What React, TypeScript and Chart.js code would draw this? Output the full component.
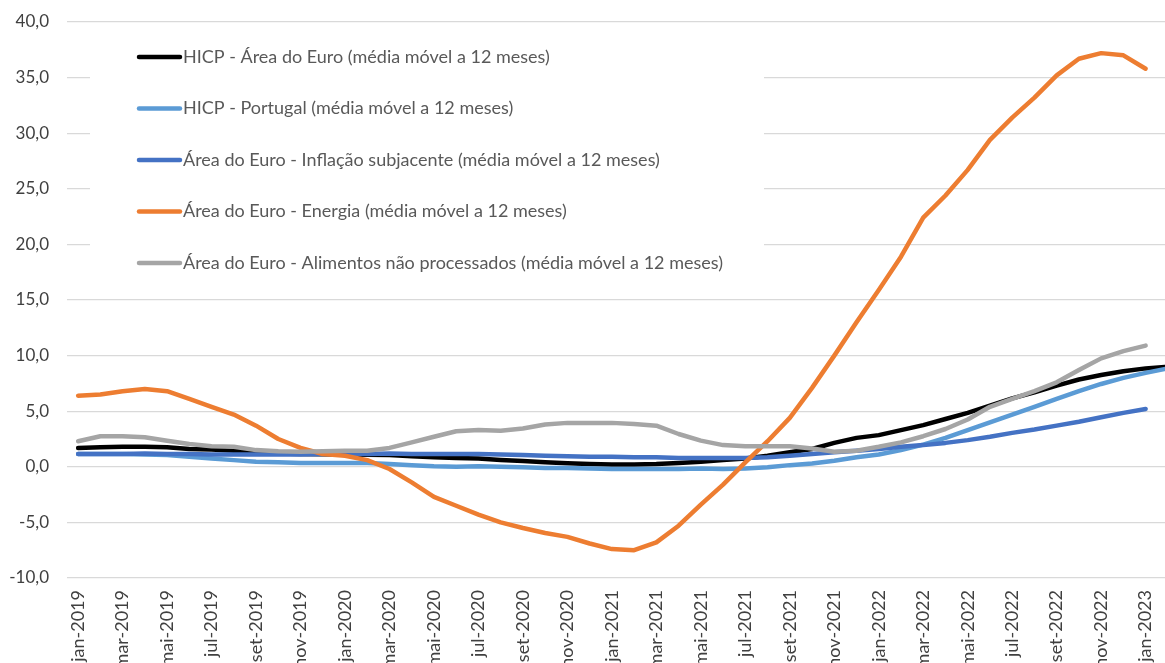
import React, { useEffect, useRef } from "react";
import { Chart, registerables } from "chart.js";

Chart.register(...registerables);

const categories: string[] = [
  "jan-2019", "fev-2019", "mar-2019", "abr-2019", "mai-2019", "jun-2019", "jul-2019", "ago-2019", "set-2019", "out-2019", "nov-2019", "dez-2019",
  "jan-2020", "fev-2020", "mar-2020", "abr-2020", "mai-2020", "jun-2020", "jul-2020", "ago-2020", "set-2020", "out-2020", "nov-2020", "dez-2020",
  "jan-2021", "fev-2021", "mar-2021", "abr-2021", "mai-2021", "jun-2021", "jul-2021", "ago-2021", "set-2021", "out-2021", "nov-2021", "dez-2021",
  "jan-2022", "fev-2022", "mar-2022", "abr-2022", "mai-2022", "jun-2022", "jul-2022", "ago-2022", "set-2022", "out-2022", "nov-2022", "dez-2022",
  "jan-2023", "fev-2023",
];

const hicpEuro: number[] = [
  1.7, 1.75, 1.8, 1.8, 1.75, 1.6, 1.55, 1.45, 1.3, 1.2, 1.15, 1.12,
  1.1, 1.08, 1.05, 0.95, 0.85, 0.8, 0.75, 0.62, 0.52, 0.42, 0.33, 0.25,
  0.2, 0.2, 0.25, 0.35, 0.45, 0.6, 0.75, 1.0, 1.3, 1.6, 2.15, 2.6,
  2.85, 3.3, 3.75, 4.3, 4.85, 5.5, 6.15, 6.7, 7.3, 7.85, 8.25, 8.6,
  8.85, 9.0,
];

const hicpPortugal: number[] = [
  1.15, 1.15, 1.15, 1.1, 1.05, 0.9, 0.75, 0.6, 0.45, 0.4, 0.35, 0.35,
  0.35, 0.35, 0.25, 0.15, 0.05, 0.0, 0.05, 0.0, -0.05, -0.1, -0.1, -0.15,
  -0.2, -0.2, -0.2, -0.2, -0.15, -0.2, -0.15, -0.05, 0.15, 0.3, 0.55, 0.85,
  1.1, 1.5, 2.0, 2.6, 3.3, 4.0, 4.7, 5.4, 6.1, 6.8, 7.45, 8.0,
  8.45, 8.85,
];

const coreEuro: number[] = [
  1.15, 1.15, 1.15, 1.2, 1.15, 1.15, 1.1, 1.1, 1.1, 1.1, 1.1, 1.15,
  1.15, 1.15, 1.2, 1.15, 1.15, 1.15, 1.15, 1.1, 1.05, 1.0, 0.95, 0.9,
  0.9, 0.85, 0.85, 0.8, 0.8, 0.8, 0.8, 0.85, 1.0, 1.15, 1.3, 1.45,
  1.6, 1.8, 1.95, 2.15, 2.4, 2.7, 3.05, 3.35, 3.7, 4.05, 4.45, 4.85,
  5.2,
];

const energyEuro: number[] = [
  6.4, 6.5, 6.8, 7.0, 6.8, 6.1, 5.4, 4.7, 3.7, 2.5, 1.7, 1.15,
  1.0, 0.6, -0.2, -1.4, -2.7, -3.5, -4.3, -5.0, -5.5, -5.95, -6.3, -6.9,
  -7.4, -7.5, -6.8, -5.3, -3.4, -1.6, 0.4, 2.3, 4.4, 7.1, 10.0, 13.0,
  15.9, 18.9, 22.4, 24.4, 26.7, 29.4, 31.4, 33.2, 35.2, 36.7, 37.2, 37.0,
  35.8,
];

const foodEuro: number[] = [
  2.3, 2.75, 2.75, 2.65, 2.35, 2.05, 1.85, 1.8, 1.5, 1.4, 1.35, 1.4,
  1.45, 1.45, 1.7, 2.2, 2.7, 3.2, 3.3, 3.25, 3.45, 3.8, 3.95, 3.95,
  3.95, 3.85, 3.7, 2.95, 2.35, 1.95, 1.85, 1.85, 1.85, 1.65, 1.35, 1.45,
  1.8, 2.2, 2.75, 3.4, 4.25, 5.4, 6.1, 6.8, 7.6, 8.7, 9.75, 10.4,
  10.9,
];

const seriesLabels: string[] = [
  "HICP - Área do Euro (média móvel a 12 meses)",
  "HICP - Portugal (média móvel a 12 meses)",
  "Área do Euro - Inflação subjacente (média móvel a 12 meses)",
  "Área do Euro - Energia (média móvel a 12 meses)",
  "Área do Euro - Alimentos não processados (média móvel a 12 meses)",
];

const seriesColors: string[] = ["#000000", "#5B9BD5", "#4472C4", "#ED7D31", "#A5A5A5"];

const FONT = "Lato, 'Noto Sans', sans-serif";

const insideLegend = {
  id: "insideLegend",
  beforeDatasetsDraw(chart: any) {
    const { ctx, chartArea } = chart;
    const left = chartArea.left;
    const top = chartArea.top;
    ctx.save();
    ctx.fillStyle = "#ffffff";
    ctx.fillRect(left + 23, top + 10, 674, 253);
    ctx.font = `18px ${FONT}`;
    ctx.textBaseline = "middle";
    ctx.textAlign = "left";
    chart.data.datasets.forEach((ds: any, k: number) => {
      const y = top + 35 + k * 51.5;
      ctx.strokeStyle = ds.borderColor;
      ctx.lineWidth = 4.5;
      ctx.lineCap = "round";
      ctx.beginPath();
      ctx.moveTo(left + 72, y);
      ctx.lineTo(left + 113, y);
      ctx.stroke();
      ctx.fillStyle = "#595959";
      ctx.fillText(ds.label, left + 116, y);
    });
    ctx.restore();
  },
};

export default function App() {
  const canvasRef = useRef<HTMLCanvasElement | null>(null);

  useEffect(() => {
    if (!canvasRef.current) return;
    const seriesData = [hicpEuro, hicpPortugal, coreEuro, energyEuro, foodEuro];
    const chart = new Chart(canvasRef.current, {
      type: "line",
      data: {
        labels: categories,
        datasets: seriesData.map((d, i) => ({
          label: seriesLabels[i],
          data: d,
          borderColor: seriesColors[i],
          backgroundColor: seriesColors[i],
          borderWidth: 4.5,
          pointRadius: 0,
          pointHoverRadius: 0,
          tension: 0,
          borderCapStyle: "round" as const,
          borderJoinStyle: "round" as const,
          fill: false,
          order: 5 - i,
        })),
      },
      options: {
        responsive: false,
        animation: false,
        events: [],
        layout: { padding: { top: 22, right: 0, bottom: 0, left: 0 } },
        plugins: {
          legend: { display: false },
          tooltip: { enabled: false },
          title: { display: false },
        },
        scales: {
          x: {
            type: "category",
            offset: true,
            grid: { display: false, drawTicks: false },
            border: { display: false },
            ticks: {
              autoSkip: false,
              maxRotation: 90,
              minRotation: 90,
              padding: 12,
              color: "#404040",
              font: { family: FONT, size: 18 },
              callback: function (this: any, _v: any, index: number) {
                return index % 2 === 0 ? categories[index] : "";
              },
            },
            afterFit: (scale: any) => {
              scale.height = 122;
              scale.paddingLeft = 0;
              scale.paddingRight = 0;
            },
          },
          y: {
            min: -10,
            max: 40,
            grid: { color: "#D9D9D9", lineWidth: 1.3, drawTicks: false },
            border: { display: false },
            ticks: {
              stepSize: 5,
              padding: 18,
              color: "#404040",
              font: { family: FONT, size: 17 },
              callback: (v: any) => Number(v).toFixed(1).replace(".", ","),
            },
            afterFit: (scale: any) => {
              scale.width = 67;
              scale.paddingTop = 0;
              scale.paddingBottom = 0;
            },
          },
        },
      },
      plugins: [insideLegend],
    });
    return () => chart.destroy();
  }, []);

  return (
    <div
      style={{
        position: "fixed",
        left: 0,
        top: 0,
        width: 1165,
        height: 663,
        overflow: "hidden",
        background: "#ffffff",
      }}
    >
      <canvas ref={canvasRef} width={1179} height={700} style={{ display: "block" }} />
    </div>
  );
}
